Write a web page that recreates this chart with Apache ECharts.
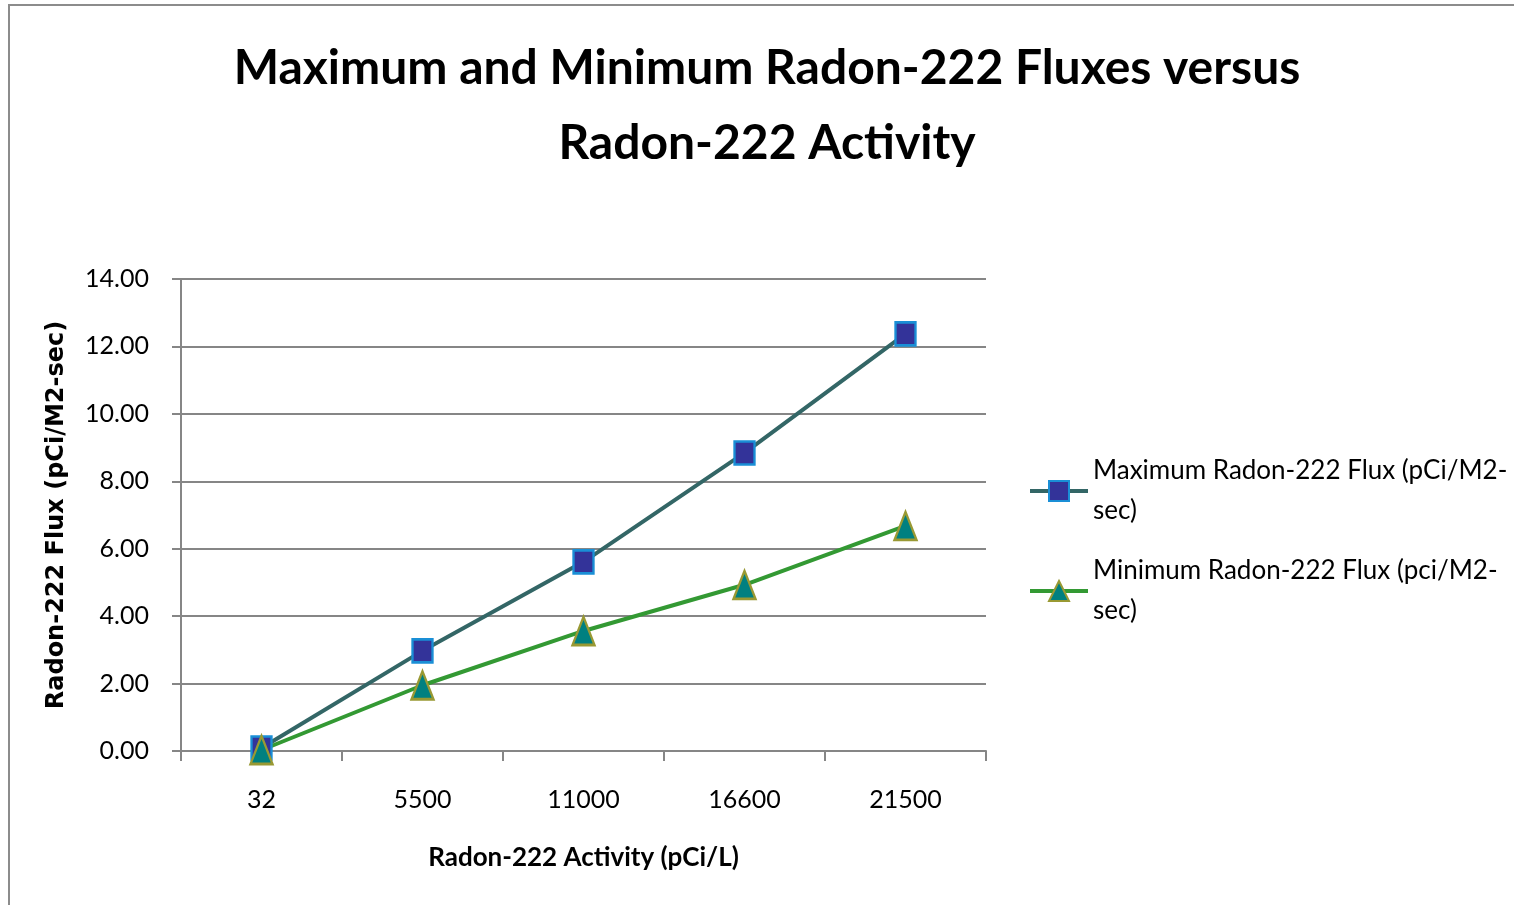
<!DOCTYPE html>
<html>
<head>
<meta charset="utf-8">
<script src="https://cdn.jsdelivr.net/npm/echarts@6/dist/echarts.min.js"></script>
<style>
    html, body { margin: 0; padding: 0; background: #fff; }
    #chart { width: 1514px; height: 905px; }
</style>
</head>
<body>
<div id="chart"></div>
<script>
    // data
    var activity = ['32', '5500', '11000', '16600', '21500'];
    var maxFlux = [0.09, 2.97, 5.61, 8.84, 12.37];
    var minFlux = [0.03, 1.95, 3.56, 4.93, 6.68];
    var seriesNames = ['Maximum Radon-222 Flux (pCi/M2-sec)', 'Minimum Radon-222 Flux (pci/M2-sec)'];
    var legendLines = {
        'Maximum Radon-222 Flux (pCi/M2-sec)': 'Maximum Radon-222 Flux (pCi/M2-\nsec)',
        'Minimum Radon-222 Flux (pci/M2-sec)': 'Minimum Radon-222 Flux (pci/M2-\nsec)'
    };

    var font = 'Lato';
    var chart = echarts.init(document.getElementById('chart'));

    chart.setOption({
        animation: false,
        backgroundColor: '#fff',
        graphic: [{
            type: 'rect',
            shape: { x: 9, y: 5, width: 1520, height: 920 },
            style: { fill: 'none', stroke: '#8c8c8c', lineWidth: 2 }
        }],
        title: {
            text: 'Maximum and Minimum Radon-222 Fluxes versus\nRadon-222 Activity',
            left: 762,
            textAlign: 'center',
            top: 26,
            textStyle: {
                fontFamily: font,
                fontWeight: 'bold',
                fontSize: 48,
                lineHeight: 75,
                color: '#000'
            }
        },
        legend: {
            orient: 'vertical',
            left: 1023,
            top: 446,
            itemWidth: 58,
            itemHeight: 25,
            itemGap: 20,
            formatter: function (name) { return legendLines[name]; },
            textStyle: {
                fontFamily: font,
                fontSize: 26,
                lineHeight: 40,
                color: '#000'
            },
            data: [
                { name: seriesNames[0], lineStyle: { width: 4 } },
                { name: seriesNames[1], lineStyle: { width: 4 } }
            ]
        },
        grid: {
            left: 181,
            top: 279,
            width: 805,
            height: 472
        },
        xAxis: {
            type: 'category',
            data: activity,
            boundaryGap: true,
            name: 'Radon-222 Activity (pCi/L)',
            nameLocation: 'middle',
            nameGap: 94,
            nameTextStyle: {
                fontFamily: font,
                fontWeight: 'bold',
                fontSize: 26,
                color: '#000'
            },
            axisLine: { lineStyle: { color: '#868686', width: 2 } },
            axisTick: { show: true, alignWithLabel: false, length: 10, lineStyle: { color: '#868686', width: 2 } },
            axisLabel: {
                fontFamily: font,
                fontSize: 25,
                color: '#000',
                margin: 36
            },
            splitLine: { show: false }
        },
        yAxis: {
            type: 'value',
            min: 0,
            max: 14,
            interval: 2,
            name: 'Radon-222 Flux (pCi/M2-sec)',
            nameLocation: 'middle',
            nameGap: 112,
            nameTextStyle: {
                fontFamily: 'DejaVu Sans',
                fontWeight: 'bold',
                fontSize: 24,
                color: '#000'
            },
            axisLine: { show: true, lineStyle: { color: '#868686', width: 2 } },
            axisTick: { show: true, length: 9, lineStyle: { color: '#868686', width: 2 } },
            axisLabel: {
                fontFamily: font,
                fontSize: 25,
                color: '#000',
                margin: 32,
                formatter: function (v) { return v.toFixed(2); }
            },
            splitLine: { show: true, lineStyle: { color: '#868686', width: 2 } }
        },
        series: [
            {
                name: seriesNames[0],
                type: 'line',
                data: maxFlux,
                symbol: 'rect',
                symbolSize: [20, 23],
                lineStyle: { color: '#336666', width: 4 },
                itemStyle: { color: '#333399', borderColor: '#1a8fd6', borderWidth: 2.5 }
            },
            {
                name: seriesNames[1],
                type: 'line',
                data: minFlux,
                symbol: 'triangle',
                symbolSize: [22, 28],
                lineStyle: { color: '#339933', width: 4 },
                itemStyle: { color: '#008080', borderColor: '#999933', borderWidth: 2.5 }
            }
        ]
    });
</script>
</body>
</html>
